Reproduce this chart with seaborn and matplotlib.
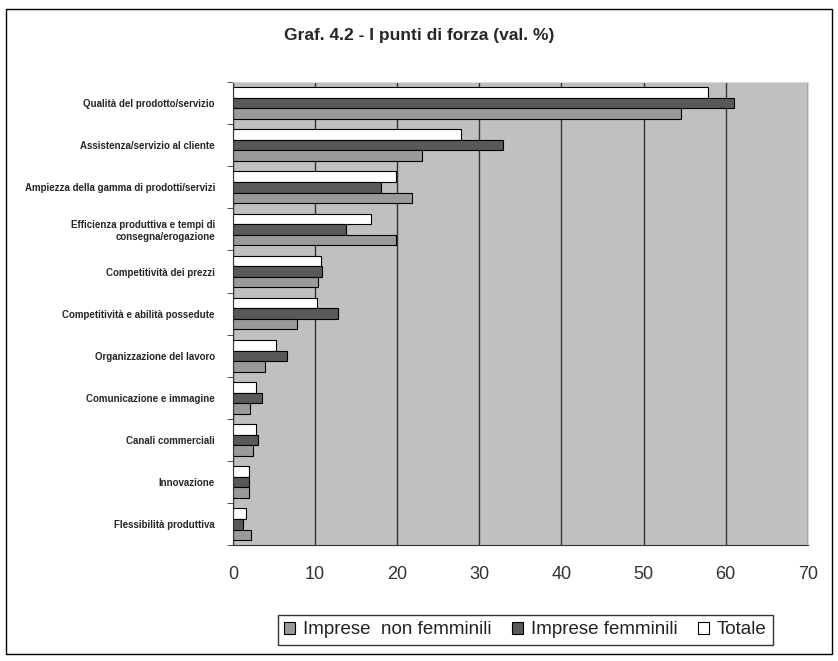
import pandas as pd
import numpy as np
import matplotlib
matplotlib.use("Agg")
import matplotlib.pyplot as plt
import seaborn as sns
from matplotlib.patches import Rectangle, Patch

# data (val. %)
categories = [
    "Qualità del prodotto/servizio",
    "Assistenza/servizio al cliente",
    "Ampiezza della gamma di prodotti/servizi",
    "Efficienza produttiva e tempi di\nconsegna/erogazione",
    "Competitività dei prezzi",
    "Competitività e abilità possedute",
    "Organizzazione del lavoro",
    "Comunicazione e immagine",
    "Canali commerciali",
    "Innovazione",
    "Flessibilità produttiva",
]
totale = [57.8, 27.8, 19.9, 16.8, 10.7, 10.2, 5.2, 2.8, 2.8, 2.0, 1.6]
femminili = [61.0, 32.9, 18.0, 13.8, 10.8, 12.8, 6.6, 3.5, 3.0, 2.0, 1.2]
non_femminili = [54.5, 23.0, 21.8, 19.9, 10.4, 7.8, 3.9, 2.1, 2.4, 2.0, 2.2]

series = ["Totale", "Imprese femminili", "Imprese  non femminili"]
colors = {"Totale": "#ffffff", "Imprese femminili": "#595959", "Imprese  non femminili": "#9a9a9a"}

df = pd.concat([
    pd.DataFrame({"cat": categories, "serie": "Totale", "val": totale}),
    pd.DataFrame({"cat": categories, "serie": "Imprese femminili", "val": femminili}),
    pd.DataFrame({"cat": categories, "serie": "Imprese  non femminili", "val": non_femminili}),
])

sns.set_style("white")
plt.rcParams["font.family"] = ["Liberation Sans", "DejaVu Sans"]

fig = plt.figure(figsize=(8.38, 6.61), dpi=100)
ax = fig.add_axes([0.278, 0.175, 0.686, 0.701])

sns.barplot(data=df, y="cat", x="val", hue="serie", hue_order=series,
            order=categories, palette=colors, orient="h", width=0.75,
            edgecolor="black", linewidth=0.8, legend=False, ax=ax)

ax.set_facecolor("#c0c0c0")
ax.set_xlim(0, 70)
ax.set_xticks(range(0, 71, 10))
ax.xaxis.grid(True, color="#333333", linewidth=1)
ax.set_axisbelow(True)
ax.set_xlabel("")
ax.set_ylabel("")
ax.tick_params(axis="x", labelsize=13, length=5, width=1, color="#333333",
               labelcolor="#333333", pad=10)
# category labels at the centres, tick marks on the group boundaries
ax.set_yticks(range(len(categories)))
ax.set_yticklabels(categories, fontsize=7, fontweight="bold")
ax.set_yticks(np.arange(-0.5, len(categories), 1), minor=True)
ax.tick_params(axis="y", which="major", length=0, pad=13)
ax.tick_params(axis="y", which="minor", length=4, left=True, color="#333333")
for lab in ax.get_yticklabels():
    lab.set_multialignment("right")
for s in ["top", "right"]:
    ax.spines[s].set_color("#d8d8d8")
for s in ["left", "bottom"]:
    ax.spines[s].set_color("#333333")

fig.text(0.5, 0.947, "Graf. 4.2 - I punti di forza (val. %)", ha="center", va="center",
         fontsize=12.5, fontweight="bold")

handles = [Patch(facecolor=colors[s], edgecolor="black", linewidth=0.8) for s in series[::-1]]
fig.legend(handles, series[::-1], loc="center", bbox_to_anchor=(0.627, 0.047), ncol=3,
           fontsize=13.5, frameon=True, fancybox=False, edgecolor="black",
           handlelength=0.6, handleheight=0.6, handletextpad=0.4, columnspacing=1.1,
           borderpad=0.35, labelcolor="#222222")

fig.patches.append(Rectangle((0.007, 0.01), 0.986, 0.977, transform=fig.transFigure,
                             fill=False, edgecolor="black", linewidth=1))

fig.savefig("out.png", dpi=100)
